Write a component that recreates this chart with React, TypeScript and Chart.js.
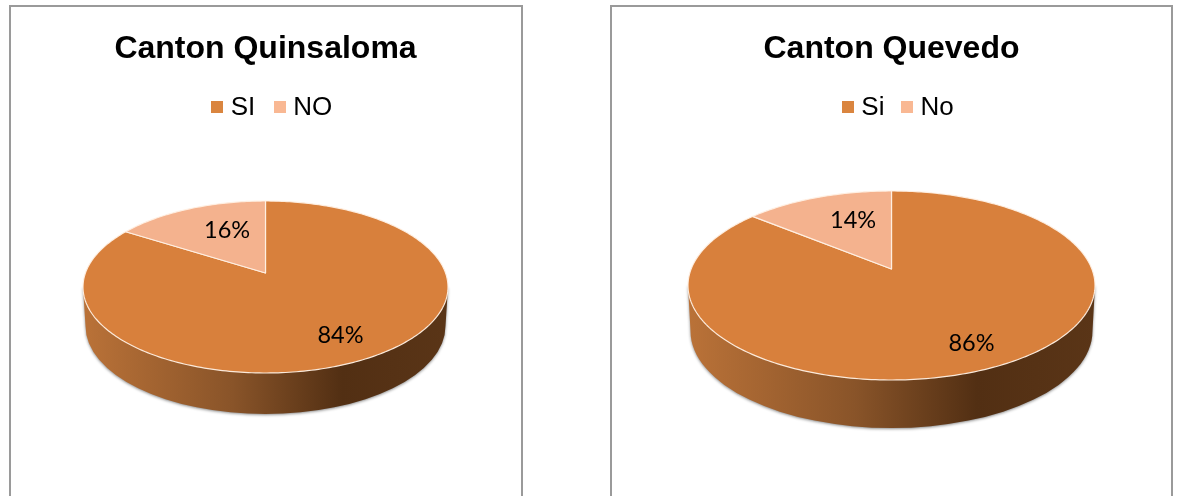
import React, { useEffect, useRef } from "react";
import { Chart, registerables } from "chart.js";

Chart.register(...registerables);

const leftTitle = "Canton Quinsaloma";
const leftCategories = ["SI", "NO"];
const leftValues = [84, 16];

const rightTitle = "Canton Quevedo";
const rightCategories = ["Si", "No"];
const rightValues = [86, 14];

const sliceColors = ["#D8803C", "#F4B28E"];
const legendColors = ["#DA853F", "#F9B893"];

const leftView = {
  left: 10, width: 511, boxWidth: 510, cy: 280, rx: 182.5, ry: 86, persp: 0.163,
  rxb: 180, ryb: 88, cyb: 319, labelF: [0.76, 0.62], labelNudge: [1, 11],
  titleSize: 32, legendPad: 24, legendShift: 9, legendDrop: 1,
};
const rightView = {
  left: 611, width: 561, boxWidth: 559, cy: 278.5, rx: 203.5, ry: 94.5, persp: 0.175,
  rxb: 201, ryb: 97, cyb: 324, labelF: [0.79, 0.638], labelNudge: [3, 11],
  titleSize: 32, legendPad: 22, legendShift: 9, legendDrop: 3,
};

// Projective view of the unit disc: the centre moves up by `a`, the rim stays an ellipse.
function project(x: number, y: number, v: any, cx: number) {
  const a = v.persp;
  const d = 1 - a * y;
  return {
    x: cx + (v.rx * x * Math.sqrt(1 - a * a)) / d,
    y: v.cy + (v.ry * (y - a)) / d,
  };
}

function swatch(color: string) {
  const c = document.createElement("canvas");
  c.width = 12;
  c.height = 12;
  const g = c.getContext("2d")!;
  g.fillStyle = color;
  g.fillRect(0, 0, 12, 12);
  return c;
}

const tiltedPie = {
  id: "tiltedPie",
  afterLayout(chart: any) {
    const v = chart.options.plugins.tiltedPie.view;
    chart.legend.left += v.legendShift;
    chart.legend.right += v.legendShift;
    chart.legend.top += v.legendDrop;
    chart.legend.bottom += v.legendDrop;
  },
  beforeDatasetsDraw(chart: any) {
    const v = chart.options.plugins.tiltedPie.view;
    const ctx = chart.ctx;
    const cx = chart.getDatasetMeta(0).data[0].x;
    const g = ctx.createLinearGradient(cx - v.rx, 0, cx + v.rx, 0);
    g.addColorStop(0, "#BA7238");
    g.addColorStop(0.41, "#895429");
    g.addColorStop(0.71, "#522F13");
    g.addColorStop(1, "#5A3517");
    ctx.save();
    ctx.shadowColor = "rgba(0,0,0,0.45)";
    ctx.shadowBlur = 3;
    ctx.shadowOffsetY = 1;
    ctx.fillStyle = g;
    ctx.beginPath();
    ctx.moveTo(cx - v.rx, v.cy);
    ctx.lineTo(cx - v.rxb, v.cyb);
    ctx.ellipse(cx, v.cyb, v.rxb, v.ryb, 0, Math.PI, 0, true);
    ctx.lineTo(cx + v.rx, v.cy);
    ctx.closePath();
    ctx.fill();
    ctx.restore();
  },
  beforeDatasetDraw(chart: any, args: any) {
    const v = chart.options.plugins.tiltedPie.view;
    const ctx = chart.ctx;
    const arcs = args.meta.data;
    arcs.forEach((arc: any) => {
      const { startAngle, endAngle, x: cx } = arc;
      const steps = Math.ceil(((endAngle - startAngle) * 180) / Math.PI);
      ctx.beginPath();
      const apex = project(0, 0, v, cx);
      ctx.moveTo(apex.x, apex.y);
      for (let i = 0; i <= steps; i++) {
        const t = startAngle + ((endAngle - startAngle) * i) / steps;
        const p = project(Math.cos(t), Math.sin(t), v, cx);
        ctx.lineTo(p.x, p.y);
      }
      ctx.closePath();
      ctx.fillStyle = arc.options.backgroundColor;
      ctx.fill();
      ctx.strokeStyle = arc.options.borderColor;
      ctx.lineWidth = arc.options.borderWidth;
      ctx.lineJoin = "round";
      ctx.stroke();
    });
    return false;
  },
  afterDatasetsDraw(chart: any) {
    const v = chart.options.plugins.tiltedPie.view;
    const ctx = chart.ctx;
    const values = chart.data.datasets[0].data;
    chart.getDatasetMeta(0).data.forEach((arc: any, i: number) => {
      const mid = (arc.startAngle + arc.endAngle) / 2;
      const p = project(
        Math.cos(mid) * v.labelF[i],
        Math.sin(mid) * v.labelF[i],
        v,
        arc.x
      );
      ctx.save();
      ctx.font = "23.5px Lato";
      ctx.fillStyle = "#000";
      ctx.textAlign = "center";
      ctx.textBaseline = "middle";
      ctx.fillText(`${values[i]}%`, p.x + v.labelNudge[i], p.y - 0.5);
      ctx.restore();
    });
  },
};

function PiePanel({ title, categories, values, view }: any) {
  const ref = useRef<HTMLCanvasElement>(null);
  useEffect(() => {
    const chart = new Chart(ref.current!, {
      type: "pie",
      data: {
        labels: categories,
        datasets: [
          {
            data: values,
            backgroundColor: sliceColors,
            borderColor: "rgba(255,240,228,0.95)",
            borderWidth: 1.2,
          },
        ],
      },
      options: {
        responsive: false,
        animation: false,
        events: [],
        layout: { padding: { top: 23 } },
        plugins: {
          tiltedPie: { view },
          title: {
            display: true,
            text: title,
            color: "#000",
            font: { family: "'Liberation Sans'", size: view.titleSize, weight: "bold" },
            padding: { top: 0, bottom: 1 },
          },
          legend: {
            display: true,
            position: "top",
            labels: {
              color: "#000",
              font: { family: "'Liberation Sans'", size: 26 },
              usePointStyle: true,
              boxWidth: 1,
              boxHeight: 12,
              padding: view.legendPad,
              generateLabels: () =>
                categories.map((text: string, i: number) => ({
                  text,
                  fillStyle: legendColors[i],
                  strokeStyle: legendColors[i],
                  lineWidth: 0,
                  pointStyle: swatch(legendColors[i]),
                  hidden: false,
                  index: i,
                })),
            },
          },
          tooltip: { enabled: false },
        },
      } as any,
      plugins: [tiltedPie as any],
    });
    return () => chart.destroy();
  }, []);
  return (
    <div
      style={{
        position: "absolute",
        left: view.left - 1,
        top: 5,
        width: view.boxWidth,
        height: 520,
        border: "2px solid #9a9a9a",
        boxSizing: "content-box",
        background: "#fff",
      }}
    >
      <canvas
        ref={ref}
        width={view.width}
        height={490}
        style={{ position: "absolute", left: -1, top: 0, display: "block" }}
      />
    </div>
  );
}

export default function App() {
  return (
    <div style={{ position: "fixed", inset: 0, overflow: "hidden", background: "#fff" }}>
      <PiePanel title={leftTitle} categories={leftCategories} values={leftValues} view={leftView} />
      <PiePanel title={rightTitle} categories={rightCategories} values={rightValues} view={rightView} />
    </div>
  );
}
